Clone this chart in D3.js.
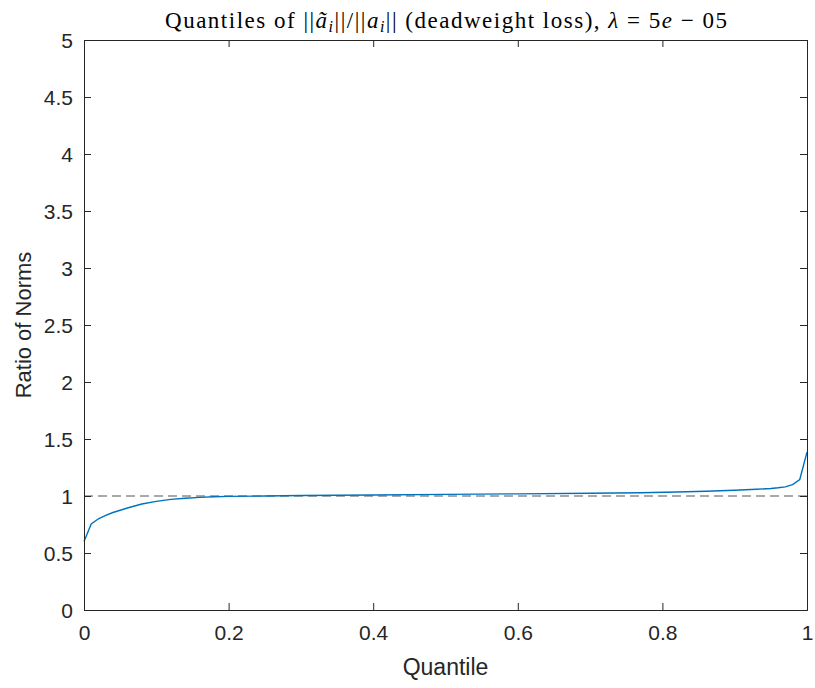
<!DOCTYPE html>
<html><head><meta charset="utf-8">
<script src="https://cdn.jsdelivr.net/npm/d3@7"></script>
<style>body{margin:0;background:#fff;} svg{display:block;}</style>
</head><body>
<script>
const quantiles = [0, 0.01, 0.02, 0.03, 0.04, 0.06, 0.08, 0.10, 0.12, 0.14, 0.16, 0.18, 0.20, 0.25, 0.30, 0.40, 0.50, 0.60, 0.70, 0.77, 0.82, 0.86, 0.90, 0.93, 0.95, 0.96, 0.97, 0.98, 0.99, 1.0];
const ratios    = [0.60, 0.755, 0.80, 0.83, 0.855, 0.895, 0.93, 0.953, 0.97, 0.98, 0.988, 0.994, 0.997, 1.0, 1.004, 1.009, 1.014, 1.019, 1.024, 1.029, 1.035, 1.042, 1.051, 1.059, 1.066, 1.072, 1.08, 1.10, 1.145, 1.385];
const xTicks = [0, 0.2, 0.4, 0.6, 0.8, 1];
const yTicks = [0, 0.5, 1, 1.5, 2, 2.5, 3, 3.5, 4, 4.5, 5];
const refLine = [1, 1];

const W = 815, H = 688;
const m = {left: 84, right: 8, top: 40, bottom: 78};
const svg = d3.select("body").append("svg").attr("width", W).attr("height", H);
const x = d3.scaleLinear().domain([0, 1]).range([m.left, W - m.right]);
const y = d3.scaleLinear().domain([0, 5]).range([H - m.bottom, m.top]);
const axisColor = "#262626";
const font = "'Liberation Sans', Arial, Helvetica, sans-serif";

// dashed reference line
svg.append("line")
  .attr("x1", x(0)).attr("x2", x(1))
  .attr("y1", y(refLine[0])).attr("y2", y(refLine[1]))
  .attr("stroke", "#555").attr("stroke-width", 1).attr("stroke-dasharray", "9,5");

// data line
const data = quantiles.map((q, i) => [q, ratios[i]]);
svg.append("path").datum(data)
  .attr("fill", "none").attr("stroke", "#0072BD").attr("stroke-width", 1.4)
  .attr("d", d3.line().x(d => x(d[0])).y(d => y(d[1])));

// axes
const tl = 7;
const gB = svg.append("g").attr("transform", `translate(0,${y(0)})`)
  .call(d3.axisBottom(x).tickValues(xTicks).tickSize(-tl).tickPadding(15).tickFormat(d => d3.format("")(d)));
const gT = svg.append("g").attr("transform", `translate(0,${y(5)})`)
  .call(d3.axisTop(x).tickValues(xTicks).tickSize(-tl).tickFormat(""));
const gL = svg.append("g").attr("transform", `translate(${x(0)},0)`)
  .call(d3.axisLeft(y).tickValues(yTicks).tickSize(-tl).tickPadding(11).tickFormat(d => d3.format("")(d)));
const gR = svg.append("g").attr("transform", `translate(${x(1)},0)`)
  .call(d3.axisRight(y).tickValues(yTicks).tickSize(-tl).tickFormat(""));
[gB, gT, gL, gR].forEach(g => {
  g.select(".domain").attr("stroke", axisColor).attr("stroke-width", 1);
  g.selectAll(".tick line").attr("stroke", axisColor).attr("stroke-width", 1);
  g.selectAll(".tick text").attr("fill", axisColor).style("font-family", font).style("font-size", "21px");
});
gB.selectAll(".tick text").attr("dy", "0.71em");
gL.selectAll(".tick text").attr("dy", "0.36em");

// axis labels
svg.append("text").attr("x", (x(0) + x(1)) / 2).attr("y", 675)
  .attr("text-anchor", "middle").attr("fill", axisColor)
  .style("font-family", font).style("font-size", "23px").text("Quantile");
svg.append("text").attr("transform", `translate(31,${(y(0) + y(5)) / 2}) rotate(-90)`)
  .attr("text-anchor", "middle").attr("fill", axisColor)
  .style("font-family", font).style("font-size", "22px").text("Ratio of Norms");

// title
const t = svg.append("text").attr("x", 165).attr("y", 28)
  .attr("text-anchor", "start").attr("fill", "#000")
  .attr("textLength", 562).attr("lengthAdjust", "spacing")
  .style("font-family", "'Liberation Serif', 'Times New Roman', serif").style("font-size", "23px");
t.append("tspan").text("Quantiles of ||");
t.append("tspan").attr("font-style", "italic").text("\u00e3");
t.append("tspan").attr("font-style", "italic").attr("font-size", "16px").attr("dy", 4).text("i");
t.append("tspan").attr("dy", -4).text("||/||");
t.append("tspan").attr("font-style", "italic").text("a");
t.append("tspan").attr("font-style", "italic").attr("font-size", "16px").attr("dy", 4).text("i");
t.append("tspan").attr("dy", -4).text("|| (deadweight loss), ");
t.append("tspan").attr("font-style", "italic").text("\u03bb");
t.append("tspan").text(" = 5");
t.append("tspan").attr("font-style", "italic").text("e");
t.append("tspan").text(" \u2212 05");
</script>
</body></html>
